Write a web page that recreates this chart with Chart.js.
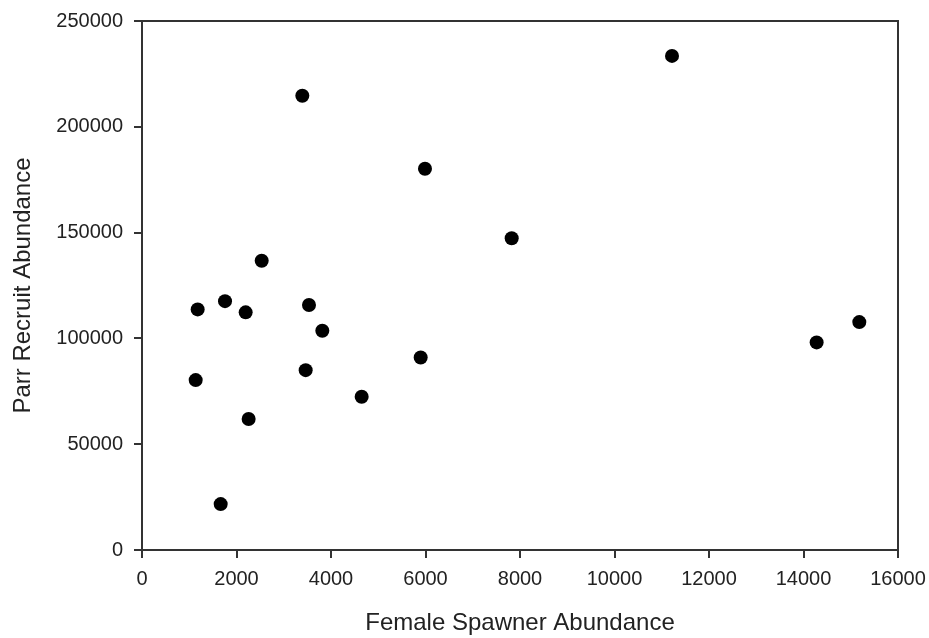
<!DOCTYPE html>
<html>
<head>
<meta charset="utf-8">
<script src="https://cdn.jsdelivr.net/npm/chart.js@4.4.1/dist/chart.umd.min.js"></script>
<style>
  html, body { margin: 0; padding: 0; background: #fff; }
  #wrap { width: 929px; height: 638px; }
</style>
</head>
<body>
<div id="wrap"><canvas id="myChart" width="929" height="638"></canvas></div>
<script>
// valeurs
const femaleSpawners = [1136, 1178, 1757, 2194, 2257, 1665, 2533, 3393, 3464, 3534, 3816, 4649, 5898, 5989, 7824, 11217, 14278, 15181]
const parrRecruits = [80300, 113700, 117600, 112300, 61900, 21700, 136700, 214700, 85000, 115800, 103600, 72400, 91000, 180200, 147300, 233500, 98100, 107700]
const xTicks = [0, 2000, 4000, 6000, 8000, 10000, 12000, 14000, 16000]
const yTicks = [0, 50000, 100000, 150000, 200000, 250000]

let points = []
for (let i = 0; i < femaleSpawners.length; i++) {
  points.push({ x: femaleSpawners[i], y: parrRecruits[i] })
}

const axisColor = '#333'
const fontFamily = "'Liberation Sans', Arial, sans-serif"

// cadre haut et droite
const frame = {
  id: 'frame',
  afterDraw(chart) {
    const { ctx, chartArea } = chart
    ctx.save()
    ctx.strokeStyle = axisColor
    ctx.lineWidth = 2
    ctx.beginPath()
    ctx.moveTo(chartArea.left, chartArea.top)
    ctx.lineTo(chartArea.right, chartArea.top)
    ctx.lineTo(chartArea.right, chartArea.bottom)
    ctx.stroke()
    ctx.restore()
  }
}

const ctx = document.getElementById('myChart')
new Chart(ctx, {
  type: 'scatter',
  data: {
    datasets: [{
      label: 'Parr Recruit Abundance',
      data: points,
      backgroundColor: '#000',
      borderWidth: 0,
      pointRadius: 7,
      pointHoverRadius: 7,
    }]
  },
  options: {
    responsive: false,
    animation: false,
    devicePixelRatio: 1,
    layout: { padding: { top: 21, right: 31, left: 0, bottom: 0 } },
    plugins: {
      legend: { display: false },
      tooltip: { enabled: false },
    },
    scales: {
      x: {
        type: 'linear',
        min: 0,
        max: 16000,
        afterFit: (scale) => {
          scale.height = 88
          scale.paddingLeft = 0
          scale.paddingRight = 0
        },
        afterBuildTicks: (scale) => { scale.ticks = xTicks.map(v => ({ value: v })) },
        ticks: {
          color: '#222',
          font: { family: fontFamily, size: 20 },
          padding: 9,
          maxRotation: 0,
          callback: (v) => String(v),
        },
        grid: { drawOnChartArea: false, drawTicks: true, tickLength: 8, color: axisColor, lineWidth: 2 },
        border: { display: true, color: axisColor, width: 2 },
        title: {
          display: true,
          text: 'Female Spawner Abundance',
          color: '#222',
          font: { family: fontFamily, size: 24 },
          padding: { top: 0, bottom: 0 },
        },
      },
      y: {
        type: 'linear',
        min: 0,
        max: 250000,
        afterFit: (scale) => {
          scale.width = 142
          scale.paddingTop = 0
          scale.paddingBottom = 0
        },
        afterBuildTicks: (scale) => { scale.ticks = yTicks.map(v => ({ value: v })) },
        ticks: {
          color: '#222',
          font: { family: fontFamily, size: 20 },
          padding: 11,
          callback: (v) => String(v),
        },
        grid: { drawOnChartArea: false, drawTicks: true, tickLength: 8, color: axisColor, lineWidth: 2 },
        border: { display: true, color: axisColor, width: 2 },
        title: {
          display: true,
          text: 'Parr Recruit Abundance',
          color: '#222',
          font: { family: fontFamily, size: 24 },
          padding: { top: 9, bottom: 0 },
        },
      },
    },
  },
  plugins: [frame],
})
</script>
</body>
</html>
